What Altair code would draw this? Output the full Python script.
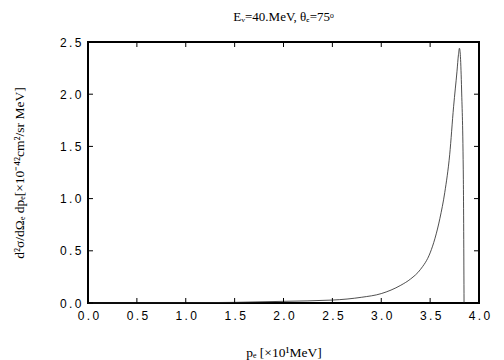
import altair as alt
import pandas as pd

# electron momentum p_e [x10 MeV]
p_e = [0.0, 0.5, 1.0, 1.5, 2.0, 2.5, 2.8, 3.0, 3.2, 3.3, 3.4, 3.5, 3.55, 3.6,
       3.65, 3.7, 3.74, 3.775, 3.79, 3.80, 3.81, 3.822, 3.84, 3.847]
# d2sigma/dOmega dp [1e-42 cm2/sr MeV]
xsec = [0.0, 0.0005, 0.002, 0.006, 0.016, 0.028, 0.055, 0.09, 0.17, 0.23, 0.32,
        0.48, 0.62, 0.81, 1.06, 1.42, 1.88, 2.22, 2.38, 2.44, 2.36, 2.04, 1.18, 0.0]

x_ticks = [0.0, 0.5, 1.0, 1.5, 2.0, 2.5, 3.0, 3.5, 4.0]
y_ticks = [0.0, 0.5, 1.0, 1.5, 2.0, 2.5]

df = pd.DataFrame({"p": p_e, "v": xsec})

xs = alt.Scale(domain=[0, 4], nice=False, zero=False)
ys = alt.Scale(domain=[0, 2.5], nice=False)

label_expr = "replace(datum.label, '.', '\u2009.\u2009')"

x_axis = alt.Axis(
    values=x_ticks, format=".1f", labelExpr=label_expr, labelFlush=False,
    title="pₑ [×10¹MeV]", ticks=False, domain=False, grid=False,
    labelPadding=7, titlePadding=24, labelFont="Liberation Sans", labelFontSize=12,
    labelColor="black", titleFont="Liberation Serif", titleFontSize=13.5,
    titleFontWeight="normal", titleColor="black")
y_axis = alt.Axis(
    values=y_ticks, format=".1f", labelExpr=label_expr, labelFlush=False,
    title="d²σ/dΩₑ dpₑ[×10⁻⁴²cm²/sr MeV]", ticks=False, domain=False, grid=False,
    labelPadding=7, titlePadding=33, labelFont="Liberation Sans", labelFontSize=12,
    labelColor="black", titleFont="Liberation Serif", titleFontSize=13.5,
    titleFontWeight="normal", titleColor="black")

line = alt.Chart(df).mark_line(color="#222222", strokeWidth=0.8, interpolate="monotone").encode(
    x=alt.X("p:Q", scale=xs, axis=x_axis),
    y=alt.Y("v:Q", scale=ys, axis=y_axis),
)

xt = pd.DataFrame({"p": x_ticks * 2,
                   "v": [0.0] * len(x_ticks) + [2.5] * len(x_ticks),
                   "v2": [0.048] * len(x_ticks) + [2.452] * len(x_ticks)})
yt = pd.DataFrame({"v": y_ticks * 2,
                   "p": [0.0] * len(y_ticks) + [4.0] * len(y_ticks),
                   "p2": [0.051] * len(y_ticks) + [3.949] * len(y_ticks)})

xtick = alt.Chart(xt).mark_rule(color="black", strokeWidth=1).encode(
    x=alt.X("p:Q", scale=xs, axis=x_axis),
    y=alt.Y("v:Q", scale=ys, axis=y_axis),
    y2="v2:Q")
ytick = alt.Chart(yt).mark_rule(color="black", strokeWidth=1).encode(
    y=alt.Y("v:Q", scale=ys, axis=y_axis),
    x=alt.X("p:Q", scale=xs, axis=x_axis),
    x2="p2:Q")

chart = alt.layer(line, xtick, ytick).properties(
    width=391, height=261,
    background="white",
    title=alt.TitleParams("Eᵥ=40.MeV,  θₑ=75ᵒ", font="Liberation Serif", fontSize=13,
                          fontWeight="normal", color="black", offset=12),
    padding={"left": 4, "top": 3, "right": 5, "bottom": 5},
).configure_view(stroke="black", strokeWidth=2)

chart.save("out.html", embed_options={"renderer": "svg", "actions": False})
